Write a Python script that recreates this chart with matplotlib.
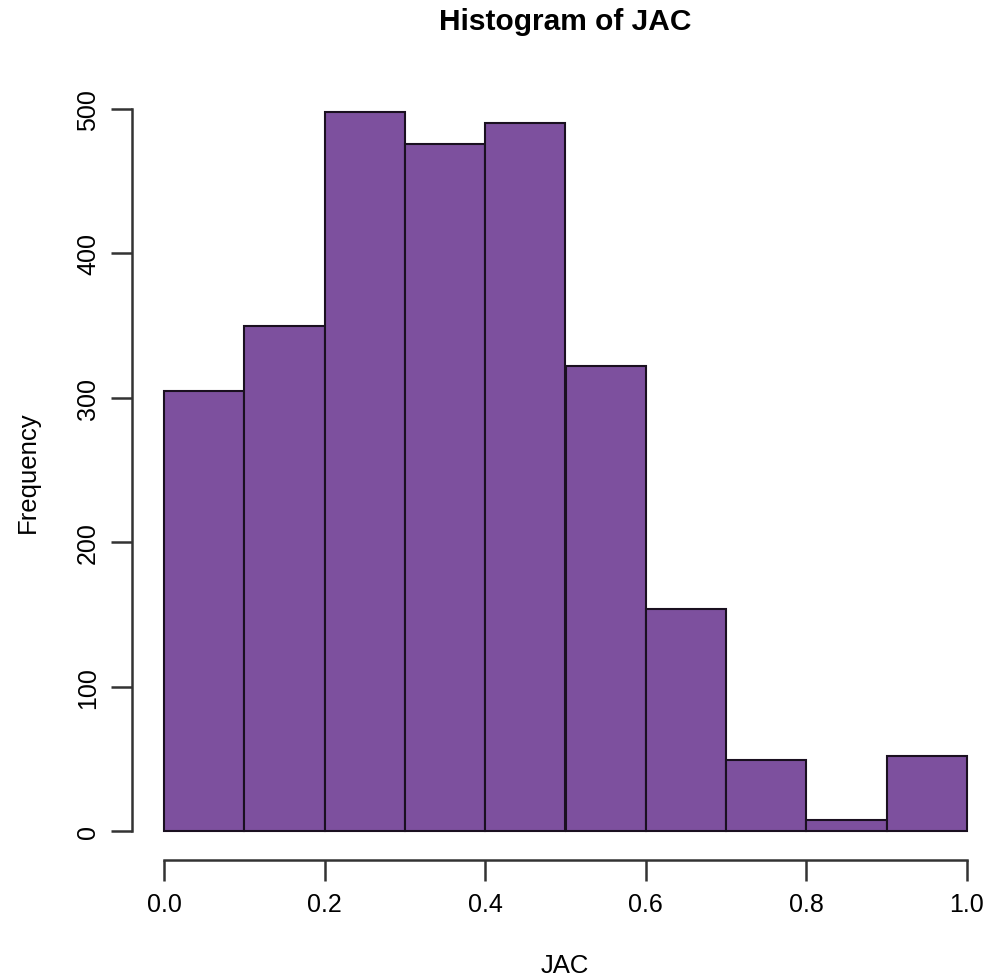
import matplotlib
matplotlib.use("Agg")
import matplotlib.pyplot as plt

# bin edges and counts
bin_edges = [0.0, 0.1, 0.2, 0.3, 0.4, 0.5, 0.6, 0.7, 0.8, 0.9, 1.0]
counts = [305, 350, 498, 476, 490, 322, 154, 49, 8, 52]
x_ticks = [0.0, 0.2, 0.4, 0.6, 0.8, 1.0]
x_tick_labels = ["0.0", "0.2", "0.4", "0.6", "0.8", "1.0"]
y_ticks = [0, 100, 200, 300, 400, 500]


def main():
    plt.rcParams["font.family"] = ["Liberation Sans", "DejaVu Sans"]
    fig = plt.figure(figsize=(9.99, 9.79), dpi=100)
    W, H = 999, 979
    ax = fig.add_axes([132 / W, 1 - 861 / H, 867 / W, 777 / H])

    lefts = bin_edges[:-1]
    widths = [b - a for a, b in zip(bin_edges[:-1], bin_edges[1:])]
    ax.bar(lefts, counts, width=widths, align="edge", color="#7d509e",
           edgecolor="#1a1020", linewidth=1.5)

    ax.set_xlim(-0.04, 1.04)
    ax.set_ylim(-0.04 * 498, 498 * 1.04)

    for s in ["top", "right"]:
        ax.spines[s].set_visible(False)
    ax.spines["left"].set_bounds(0, 500)
    ax.spines["bottom"].set_bounds(0, 1)
    for s in ["left", "bottom"]:
        ax.spines[s].set_linewidth(1.8)
        ax.spines[s].set_color("#333333")

    ax.set_xticks(x_ticks)
    ax.set_xticklabels(x_tick_labels)
    ax.set_yticks(y_ticks)
    ax.set_yticklabels([str(v) for v in y_ticks], rotation=90, va="center")
    ax.tick_params(axis="both", length=15, width=1.8, color="#333333",
                   labelsize=18, pad=8)

    fig.text(565 / W, 1 - 22 / H, "Histogram of JAC", ha="center", va="center",
             fontsize=21.5, fontweight="bold")
    fig.text(565 / W, 1 - 966 / H, "JAC", ha="center", va="center", fontsize=18.5)
    fig.text(28 / W, 1 - 472 / H, "Frequency", ha="center", va="center",
             rotation=90, fontsize=18.5)

    fig.savefig("out.png", dpi=100)


if __name__ == '__main__':
    main()
